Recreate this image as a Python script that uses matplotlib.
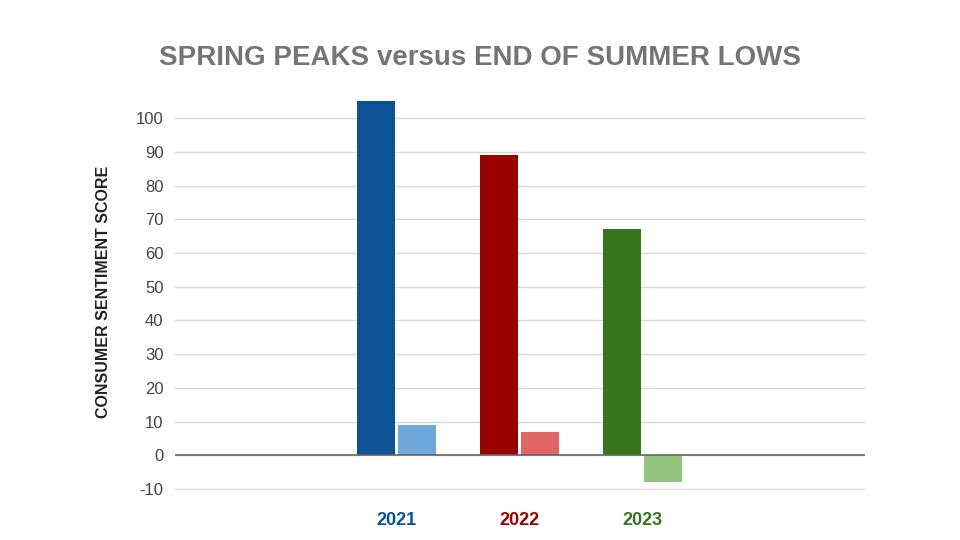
import matplotlib.pyplot as plt
import numpy as np

plt.rcParams['axes.unicode_minus'] = False
plt.rcParams['font.family'] = ['Liberation Sans', 'DejaVu Sans']

years = ['2021', '2022', '2023']
spring_peaks = [105, 89, 67]
summer_lows = [9, 7, -8]
dark_colors = ['#0b5394', '#990000', '#38761d']
light_colors = ['#6fa8dc', '#e06666', '#93c47d']
y_ticks = [-10, 0, 10, 20, 30, 40, 50, 60, 70, 80, 90, 100]

fig = plt.figure(figsize=(9.6, 5.4), dpi=100)
ax = fig.add_axes([0.182, 0.0930, 0.719, 0.732])

x = np.arange(len(years))
w = 0.31
ax.bar(x - 0.167, spring_peaks, w, color=dark_colors, zorder=3)
ax.bar(x + 0.167, summer_lows, w, color=light_colors, zorder=3)

ax.set_xlim(-1.8, 3.81)
ax.set_ylim(-10.25, 107)
ax.set_yticks(y_ticks)
ax.yaxis.grid(True, color='#d9d9d9', linewidth=1, zorder=0)
ax.axhline(0, color='#666666', linewidth=1.2, zorder=4)
for s in ax.spines.values():
    s.set_visible(False)
ax.tick_params(axis='both', length=0)
ax.tick_params(axis='y', labelsize=12, labelcolor='#444444', pad=8)

ax.set_xticks(x)
ax.set_xticklabels(years, fontsize=13, fontweight='bold')
for lbl, c in zip(ax.get_xticklabels(), dark_colors):
    lbl.set_color(c)
ax.tick_params(axis='x', pad=16)

ax.set_ylabel('CONSUMER SENTIMENT SCORE', fontsize=11.5, fontweight='bold',
              color='#222222', labelpad=18)
fig.text(0.5, 0.893, 'SPRING PEAKS versus END OF SUMMER LOWS', ha='center',
         va='center', fontsize=20, fontweight='bold', color='#757575')

fig.savefig('out.png', dpi=100)
